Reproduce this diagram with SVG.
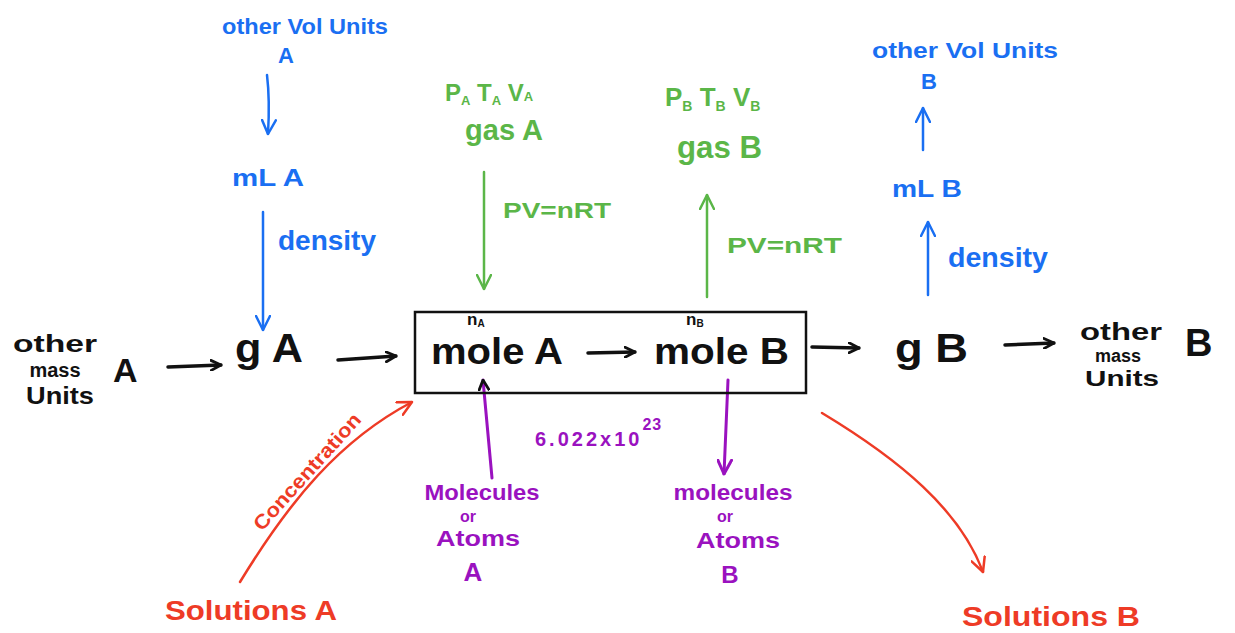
<svg xmlns="http://www.w3.org/2000/svg" width="1235" height="633" viewBox="0 0 1235 633">
<style>
text{font-family:"Liberation Sans",Arial,sans-serif;font-weight:bold}
.k{fill:#111}
.b{fill:#1a6ff2}
.g{fill:#5bb648}
.p{fill:#9a12bf}
.r{fill:#ee3b26}
.lk{stroke:#111;stroke-width:3.5;fill:none;stroke-linecap:round}
.lb{stroke:#1a6ff2;stroke-width:2.5;fill:none;stroke-linecap:round}
.lg{stroke:#5bb648;stroke-width:2.5;fill:none;stroke-linecap:round}
.lp{stroke:#9a12bf;stroke-width:3;fill:none;stroke-linecap:round}
.lr{stroke:#ee3b26;stroke-width:2.5;fill:none;stroke-linecap:round}
</style>
<defs>
<marker id="mk" viewBox="0 0 12 12" refX="11" refY="6" markerWidth="12" markerHeight="12" markerUnits="userSpaceOnUse" orient="auto"><path d="M1,1 L11,6 L1,11" fill="none" stroke="#111" stroke-width="2.8" stroke-linecap="round" stroke-linejoin="round"/></marker>
<marker id="mb" viewBox="0 0 16 16" refX="15" refY="8" markerWidth="16" markerHeight="16" markerUnits="userSpaceOnUse" orient="auto"><path d="M1,1 L15,8 L1,15" fill="none" stroke="#1a6ff2" stroke-width="2.5" stroke-linecap="round" stroke-linejoin="round"/></marker>
<marker id="mg" viewBox="0 0 16 16" refX="15" refY="8" markerWidth="16" markerHeight="16" markerUnits="userSpaceOnUse" orient="auto"><path d="M1,1 L15,8 L1,15" fill="none" stroke="#5bb648" stroke-width="2.5" stroke-linecap="round" stroke-linejoin="round"/></marker>
<marker id="mp" viewBox="0 0 16 16" refX="15" refY="8" markerWidth="16" markerHeight="16" markerUnits="userSpaceOnUse" orient="auto"><path d="M1,1 L15,8 L1,15" fill="none" stroke="#9a12bf" stroke-width="3" stroke-linecap="round" stroke-linejoin="round"/></marker>
<marker id="mpk" viewBox="0 0 12 12" refX="11" refY="6" markerWidth="12" markerHeight="12" markerUnits="userSpaceOnUse" orient="auto"><path d="M1,1 L11,6 L1,11" fill="none" stroke="#111" stroke-width="2.8" stroke-linecap="round" stroke-linejoin="round"/></marker>
<marker id="mr" viewBox="0 0 16 16" refX="15" refY="8" markerWidth="16" markerHeight="16" markerUnits="userSpaceOnUse" orient="auto"><path d="M1,1 L15,8 L1,15" fill="none" stroke="#ee3b26" stroke-width="2.5" stroke-linecap="round" stroke-linejoin="round"/></marker>
</defs>
<rect width="1235" height="633" fill="#fff"/>

<g id="connectors">
<path class="lk" d="M168,367 L221,365" marker-end="url(#mk)"/>
<path class="lk" d="M338,360 L396,356" marker-end="url(#mk)"/>
<path class="lk" d="M588,353 L635,352" marker-end="url(#mk)"/>
<path class="lk" d="M812,347 L859,348" marker-end="url(#mk)"/>
<path class="lk" d="M1005,345 L1054,343" marker-end="url(#mk)"/>
<path class="lb" d="M267,75 Q270,100 268,134" marker-end="url(#mb)"/>
<path class="lb" d="M263,212 L263,330" marker-end="url(#mb)"/>
<path class="lb" d="M923,150 L923,108" marker-end="url(#mb)"/>
<path class="lb" d="M928,295 L928,222" marker-end="url(#mb)"/>
<path class="lg" d="M484,172 L484,289" marker-end="url(#mg)"/>
<path class="lg" d="M707,297 L707,195" marker-end="url(#mg)"/>
<path class="lp" d="M492,478 L483,380" marker-end="url(#mpk)"/>
<path class="lp" d="M728,380 L724,474" marker-end="url(#mp)"/>
<path class="lr" d="M240,582 C290,500 340,440 412,402" marker-end="url(#mr)"/>
<path class="lr" d="M822,413 C900,460 960,510 983,572" marker-end="url(#mr)"/>
</g>

<g id="box"><rect x="415" y="312" width="391" height="81" fill="none" stroke="#111" stroke-width="2.5"/></g>

<g id="other-mass-A">
<text class="k" x="55" y="352" font-size="24" text-anchor="middle" textLength="84" lengthAdjust="spacingAndGlyphs">other</text>
<text class="k" x="55" y="377" font-size="20" text-anchor="middle">mass</text>
<text class="k" x="60" y="404" font-size="24" text-anchor="middle" textLength="68" lengthAdjust="spacingAndGlyphs">Units</text>
<text class="k" x="113" y="382" font-size="34">A</text>
</g>
<g id="gA"><text class="k" x="235" y="362" font-size="40" textLength="68" lengthAdjust="spacingAndGlyphs">g A</text></g>
<g id="moleA">
<text class="k" x="467" y="325" font-size="17">n<tspan font-size="10" dy="2">A</tspan></text>
<text class="k" x="431" y="364" font-size="36" textLength="132" lengthAdjust="spacingAndGlyphs">mole A</text>
</g>
<g id="moleB">
<text class="k" x="686" y="325" font-size="17">n<tspan font-size="10" dy="2">B</tspan></text>
<text class="k" x="654" y="364" font-size="36" textLength="135" lengthAdjust="spacingAndGlyphs">mole B</text>
</g>
<g id="gB"><text class="k" x="895" y="362" font-size="40" textLength="73" lengthAdjust="spacingAndGlyphs">g  B</text></g>
<g id="other-mass-B">
<text class="k" x="1121" y="340" font-size="24" text-anchor="middle" textLength="82" lengthAdjust="spacingAndGlyphs">other</text>
<text class="k" x="1118" y="362" font-size="18" text-anchor="middle">mass</text>
<text class="k" x="1122" y="386" font-size="22" text-anchor="middle" textLength="74" lengthAdjust="spacingAndGlyphs">Units</text>
<text class="k" x="1185" y="356" font-size="38">B</text>
</g>

<g id="volA">
<text class="b" x="305" y="34" font-size="22" text-anchor="middle" textLength="166" lengthAdjust="spacingAndGlyphs">other Vol Units</text>
<text class="b" x="286" y="63" font-size="22" text-anchor="middle">A</text>
</g>
<g id="mLA"><text class="b" x="232" y="186" font-size="24" textLength="72" lengthAdjust="spacingAndGlyphs">mL A</text></g>
<g id="densA"><text class="b" x="278" y="250" font-size="28" textLength="98" lengthAdjust="spacingAndGlyphs">density</text></g>
<g id="volB">
<text class="b" x="965" y="58" font-size="22" text-anchor="middle" textLength="186" lengthAdjust="spacingAndGlyphs">other Vol Units</text>
<text class="b" x="929" y="89" font-size="22" text-anchor="middle">B</text>
</g>
<g id="mLB"><text class="b" x="892" y="197" font-size="24" textLength="70" lengthAdjust="spacingAndGlyphs">mL B</text></g>
<g id="densB"><text class="b" x="948" y="267" font-size="28" textLength="100" lengthAdjust="spacingAndGlyphs">density</text></g>

<g id="gasA">
<text class="g" x="445" y="101" font-size="24">P<tspan font-size="13" dy="4">A</tspan><tspan dy="-4"> T</tspan><tspan font-size="13" dy="4">A</tspan><tspan dy="-4"> V</tspan><tspan font-size="13" dy="0">A</tspan></text>
<text class="g" x="465" y="140" font-size="30" textLength="78" lengthAdjust="spacingAndGlyphs">gas A</text>
</g>
<g id="pvA"><text class="g" x="503" y="218" font-size="22" textLength="108" lengthAdjust="spacingAndGlyphs">PV=nRT</text></g>
<g id="gasB">
<text class="g" x="665" y="106" font-size="26">P<tspan font-size="14" dy="5">B</tspan><tspan dy="-5"> T</tspan><tspan font-size="14" dy="5">B</tspan><tspan dy="-5"> V</tspan><tspan font-size="14" dy="5">B</tspan></text>
<text class="g" x="677" y="158" font-size="32" textLength="85" lengthAdjust="spacingAndGlyphs">gas B</text>
</g>
<g id="pvB"><text class="g" x="727" y="253" font-size="22" textLength="115" lengthAdjust="spacingAndGlyphs">PV=nRT</text></g>

<g id="molA">
<text class="p" x="482" y="500" font-size="22" text-anchor="middle" textLength="115" lengthAdjust="spacingAndGlyphs">Molecules</text>
<text class="p" x="468" y="522" font-size="16" text-anchor="middle">or</text>
<text class="p" x="478" y="546" font-size="22" text-anchor="middle" textLength="84" lengthAdjust="spacingAndGlyphs">Atoms</text>
<text class="p" x="473" y="581" font-size="26" text-anchor="middle">A</text>
</g>
<g id="avogadro"><text class="p" x="535" y="446" font-size="20" letter-spacing="3">6.022x10<tspan dy="-16" font-size="16" letter-spacing="1">23</tspan></text></g>
<g id="molB">
<text class="p" x="733" y="500" font-size="22" text-anchor="middle" textLength="119" lengthAdjust="spacingAndGlyphs">molecules</text>
<text class="p" x="725" y="522" font-size="16" text-anchor="middle">or</text>
<text class="p" x="738" y="548" font-size="22" text-anchor="middle" textLength="84" lengthAdjust="spacingAndGlyphs">Atoms</text>
<text class="p" x="730" y="583" font-size="24" text-anchor="middle">B</text>
</g>

<g id="solA"><text class="r" x="165" y="620" font-size="28" textLength="172" lengthAdjust="spacingAndGlyphs">Solutions A</text></g>
<g id="conc"><text class="r" x="0" y="0" font-size="20" textLength="150" lengthAdjust="spacingAndGlyphs" transform="translate(262,532) rotate(-48)">Concentration</text></g>
<g id="solB"><text class="r" x="962" y="626" font-size="28" textLength="178" lengthAdjust="spacingAndGlyphs">Solutions B</text></g>
</svg>
